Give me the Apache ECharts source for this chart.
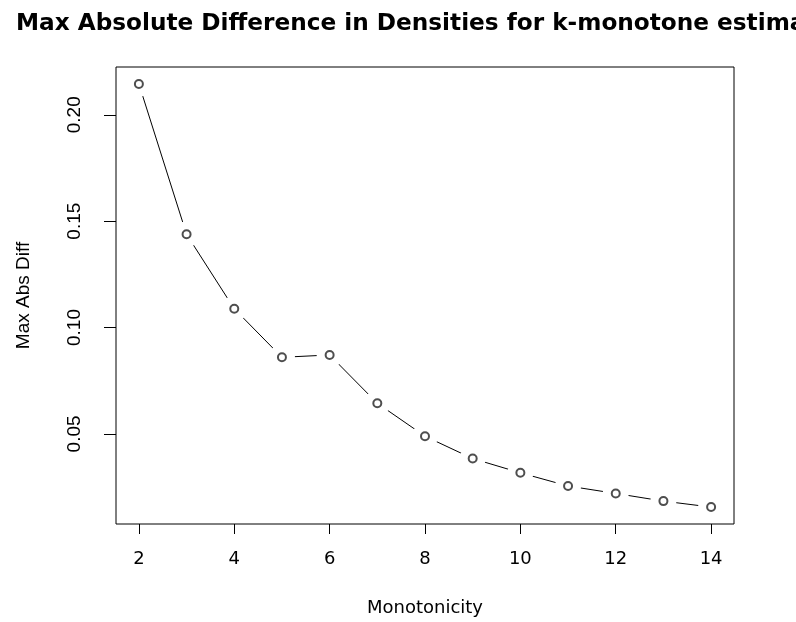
<!DOCTYPE html>
<html>
<head>
<meta charset="utf-8">
<script src="https://cdn.jsdelivr.net/npm/echarts@6/dist/echarts.min.js"></script>
<style>html,body{margin:0;padding:0;background:#fff;}#c{width:796px;height:622px;}</style>
</head>
<body>
<div id="c"></div>
<script>
var monotonicity = [2, 3, 4, 5, 6, 7, 8, 9, 10, 11, 12, 13, 14];
var maxAbsDiff = [0.2145, 0.1438, 0.1088, 0.0860, 0.0871, 0.0644, 0.0489, 0.0384, 0.0317, 0.0255, 0.0220, 0.0184, 0.0156];
var xTicks = [2, 4, 6, 8, 10, 12, 14];
var yTicks = [0.05, 0.10, 0.15, 0.20];
var titleText = 'Max Absolute Difference in Densities for k-monotone estimators';
var xName = 'Monotonicity';
var yName = 'Max Abs Diff';

var pts = monotonicity.map(function (m, i) { return [m, maxAbsDiff[i]]; });
var xr = Math.max.apply(null, monotonicity) - Math.min.apply(null, monotonicity);
var yMinV = Math.min.apply(null, maxAbsDiff), yMaxV = Math.max.apply(null, maxAbsDiff);
var yr = yMaxV - yMinV;

var chart = echarts.init(document.getElementById('c'), null, {renderer: 'canvas'});
chart.setOption({
  animation: false,
  backgroundColor: '#fff',
  title: {
    text: titleText,
    left: 11, top: 7,
    textStyle: {fontFamily: 'DejaVu Sans', fontWeight: 'bold', fontSize: 23.2, color: '#000'}
  },
  grid: {left: 116, right: 62, top: 67, bottom: 97, show: true, borderColor: '#000', borderWidth: 1, backgroundColor: '#fff'},
  xAxis: {
    type: 'value',
    min: Math.min.apply(null, monotonicity) - 0.04 * xr,
    max: Math.max.apply(null, monotonicity) + 0.04 * xr,
    axisLine: {show: false},
    splitLine: {show: false},
    axisTick: {show: true, length: 10, customValues: xTicks, lineStyle: {color: '#000', width: 1}},
    axisLabel: {customValues: xTicks, margin: 26, fontFamily: 'DejaVu Sans', fontSize: 18, color: '#000'},
    name: xName, nameLocation: 'middle', nameGap: 75,
    nameTextStyle: {fontFamily: 'DejaVu Sans', fontSize: 18, color: '#000'}
  },
  yAxis: {
    type: 'value',
    min: yMinV - 0.04 * yr,
    max: yMaxV + 0.04 * yr,
    axisLine: {show: false},
    splitLine: {show: false},
    axisTick: {show: true, length: 12, customValues: yTicks, lineStyle: {color: '#000', width: 1}},
    axisLabel: {customValues: yTicks, rotate: 90, margin: 32, fontFamily: 'Liberation Sans', fontSize: 19, color: '#000',
      formatter: function (v) { return v.toFixed(2); }},
    name: yName, nameLocation: 'middle', nameGap: 83, nameRotate: 90,
    nameTextStyle: {fontFamily: 'Liberation Sans', fontSize: 19, color: '#000'}
  },
  series: [
    {
      type: 'line', data: pts, symbol: 'circle', symbolSize: 26,
      itemStyle: {color: '#fff', borderWidth: 0},
      lineStyle: {color: '#000', width: 1}, z: 2
    },
    {
      type: 'scatter', data: pts, symbol: 'emptyCircle', symbolSize: 8,
      itemStyle: {color: '#222', borderColor: '#222', borderWidth: 0.9}, z: 3
    }
  ]
});
</script>
</body>
</html>
